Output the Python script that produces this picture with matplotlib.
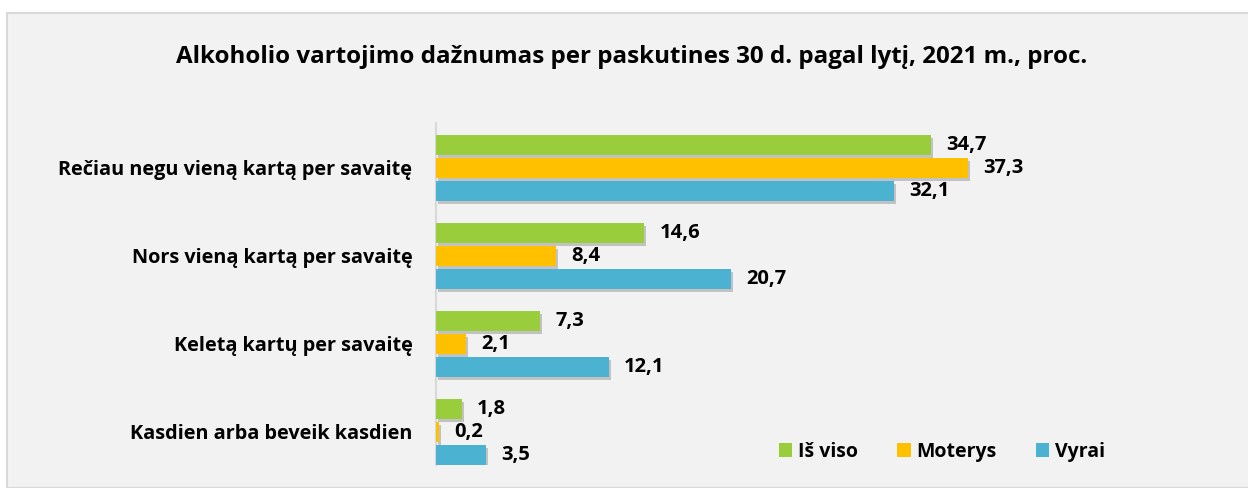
import numpy as np
import matplotlib
matplotlib.use('Agg')
import matplotlib.pyplot as plt
import matplotlib.patheffects as pe
from matplotlib.patches import Rectangle, Patch

plt.rcParams['font.family'] = ['Open Sans', 'DejaVu Sans']

categories = ['Rečiau negu vieną kartą per savaitę',
              'Nors vieną kartą per savaitę',
              'Keletą kartų per savaitę',
              'Kasdien arba beveik kasdien']
series = ['Iš viso', 'Moterys', 'Vyrai']
total = [34.7, 14.6, 7.3, 1.8]
women = [37.3, 8.4, 2.1, 0.2]
men = [32.1, 20.7, 12.1, 3.5]
colors = ['#9ACD3C', '#FFC000', '#4BB3D1']

fig = plt.figure(figsize=(12.48, 4.88), dpi=100)
fig.patch.set_facecolor('white')
# grey chart area box
fig.patches.append(Rectangle((7/1248, 0), 1.0, 1 - 13/488, transform=fig.transFigure,
                             facecolor='#F2F2F2', edgecolor='#D9D9D9', lw=1.5, zorder=-5))

ax = fig.add_axes([436/1248, 1 - 465/488, 800/1248, (465 - 123)/488])
ax.set_facecolor('none')

y = np.arange(len(categories))
slot = 23/88
h = 20/88
for i, (vals, col) in enumerate(zip([total, women, men], colors)):
    pos = y + (i - 1) * slot
    bars = ax.barh(pos, vals, height=h, color=col, zorder=3)
    for b in bars:
        b.set_path_effects([pe.SimplePatchShadow(offset=(1.5, -2.5), alpha=0.3, shadow_rgbFace='#555555'),
                            pe.Normal()])
    for p, v in zip(pos, vals):
        ax.annotate(f'{v:.1f}'.replace('.', ','), (v, p), xytext=(11, 0),
                    textcoords='offset points', va='center', ha='left',
                    fontsize=14.5, fontweight='bold', color='#000000')

ax.set_xlim(0, 800/14.27)
ax.set_ylim(3.375, -0.511)
ax.set_yticks(y)
ax.set_yticklabels(categories, fontsize=14.3, fontweight='bold')
ax.tick_params(axis='y', length=0, pad=17)
ax.set_xticks([])
for s in ['top', 'right', 'bottom']:
    ax.spines[s].set_visible(False)
ax.spines['left'].set_color('#D9D9D9')
ax.spines['left'].set_linewidth(1.5)

fig.text(632/1248, 1 - 57/488,
         'Alkoholio vartojimo dažnumas per paskutines 30 d. pagal lytį, 2021 m., proc.',
         ha='center', va='center', fontsize=17.4, fontweight='bold')

handles = [Patch(facecolor=c, label=s) for c, s in zip(colors, series)]
fig.legend(handles=handles, loc='center', bbox_to_anchor=(942/1248, 1 - 452/488), ncol=3,
           frameon=False, prop={'size': 14, 'weight': 'bold'}, handlelength=0.7,
           handleheight=0.7, handletextpad=0.3, columnspacing=2.0)

fig.savefig('out.png', dpi=100)
